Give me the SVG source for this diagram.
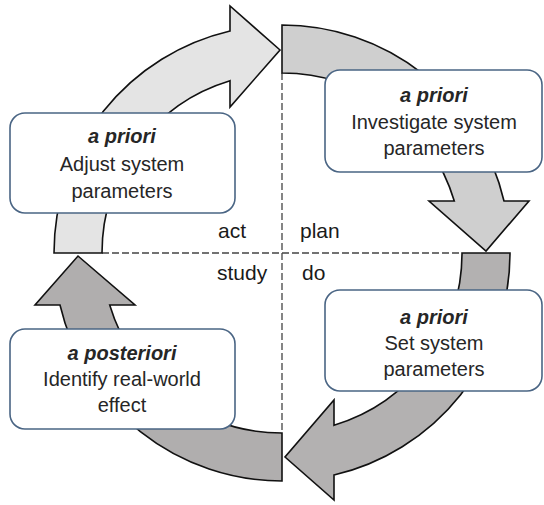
<svg xmlns="http://www.w3.org/2000/svg" width="544" height="505" viewBox="0 0 544 505">
<style>
.arr{stroke:#111;stroke-width:1.6;stroke-linejoin:miter}
.box{fill:#fff;stroke:#4a6584;stroke-width:1.6}
.t{font-family:"Liberation Sans",Arial,sans-serif;font-size:20px;fill:#262626;text-anchor:middle}
.b{font-weight:bold;font-style:italic}
.q{font-family:"Liberation Sans",Arial,sans-serif;font-size:21px;fill:#1a1a1a}
.dash{stroke:#444;stroke-width:1.3;stroke-dasharray:7 3;fill:none}
</style>
<rect width="544" height="505" fill="#fff"/>
<g id="connectors">
<line class="dash" x1="282" y1="73" x2="282" y2="433"/>
<line class="dash" x1="102" y1="253" x2="462" y2="253"/>
<path id="arrow-act" class="arr" fill="#e4e4e4" d="M54,253 A228,228 0 0 1 230,31 L230,6 L280,50 L230,107 L230,80.7 A180,180 0 0 0 102,253 Z"/>
<path id="arrow-plan" class="arr" fill="#cfcfcf" d="M282,25 A228,228 0 0 1 504,201 L529,201 L486,251 L429,201 L454.3,201 A180,180 0 0 0 282,73 Z"/>
<path id="arrow-do" class="arr" fill="#b3b1b1" d="M510,253 A228,228 0 0 1 334,475 L334,500 L285,457 L334,400 L334,425.3 A180,180 0 0 0 462,253 Z"/>
<path id="arrow-study" class="arr" fill="#b0aeae" d="M282,481 A228,228 0 0 1 60,305 L35,305 L78,256 L135,305 L109.7,305 A180,180 0 0 0 282,433 Z"/>
</g>
<g id="label-act"><text class="q" x="218" y="238">act</text></g>
<g id="label-plan"><text class="q" x="300" y="238">plan</text></g>
<g id="label-study"><text class="q" x="217" y="280">study</text></g>
<g id="label-do"><text class="q" x="302" y="280">do</text></g>
<g id="node-adjust">
<rect class="box" x="10" y="113" width="225" height="100" rx="15"/>
<text class="t b" x="122" y="143">a priori</text>
<text class="t" x="122" y="171">Adjust system</text>
<text class="t" x="122" y="198">parameters</text>
</g>
<g id="node-investigate">
<rect class="box" x="325" y="70" width="217" height="102" rx="15"/>
<text class="t b" x="434" y="102">a priori</text>
<text class="t" x="434" y="129">Investigate system</text>
<text class="t" x="434" y="155">parameters</text>
</g>
<g id="node-identify">
<rect class="box" x="10" y="329" width="225" height="100" rx="15"/>
<text class="t b" x="122" y="360">a posteriori</text>
<text class="t" x="122" y="386">Identify real-world</text>
<text class="t" x="122" y="412">effect</text>
</g>
<g id="node-set">
<rect class="box" x="325" y="290" width="217" height="101" rx="15"/>
<text class="t b" x="434" y="324">a priori</text>
<text class="t" x="434" y="350">Set system</text>
<text class="t" x="434" y="376">parameters</text>
</g>
</svg>
